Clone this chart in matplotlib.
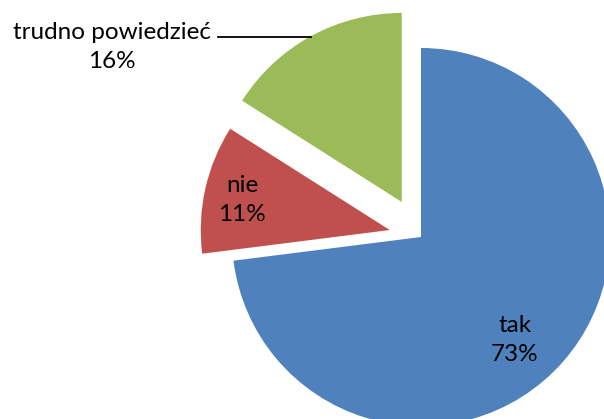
import matplotlib
matplotlib.use("Agg")
import matplotlib.pyplot as plt

labels = ["tak", "nie", "trudno powiedzieć"]
values = [73, 11, 16]
colors = ["#4F81BD", "#C0504D", "#9BBB59"]

plt.rcParams['font.family'] = ['Lato', 'DejaVu Sans']

fig = plt.figure(figsize=(6.04, 4.19), dpi=100)
ax = fig.add_axes([0, 0, 1, 1])

# pie in pixel units: centre, radius, explode offsets
cx, cy, r = 421, 182, 189
explode = [0, 32, 40]
ax.pie(values, colors=colors, explode=explode, startangle=90,
       counterclock=False, center=(cx, cy), radius=r,
       wedgeprops=dict(linewidth=0), frame=True)
ax.set_xlim(0, 604)
ax.set_ylim(0, 419)
ax.set_aspect('equal')
ax.axis('off')

fs = 17.5
ls = 1.45
ax.text(515, 79, f"{labels[0]}\n{values[0]}%", ha='center', va='center',
        fontsize=fs, linespacing=ls)
ax.text(242, 219, f"{labels[1]}\n{values[1]}%", ha='center', va='center',
        fontsize=fs, linespacing=ls)
ax.text(112, 372, f"{labels[2]}\n{values[2]}%", ha='center', va='center',
        fontsize=fs, linespacing=ls)
ax.plot([218, 311], [382, 382], color='black', linewidth=1.3)

fig.savefig("out.png", dpi=100)
